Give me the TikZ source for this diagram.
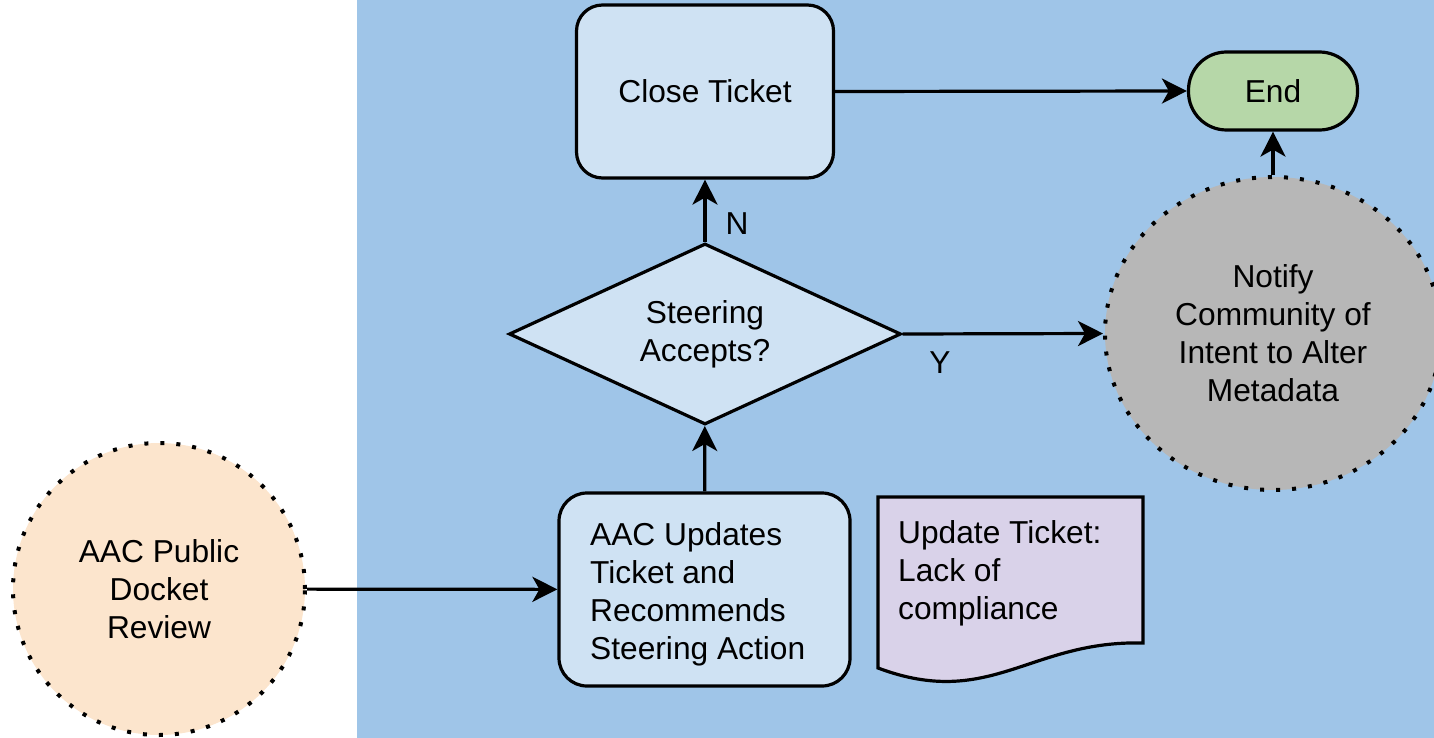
\documentclass[tikz,border=0pt]{standalone}
\usepackage{fontspec}
\setmainfont{Liberation Sans}
\usetikzlibrary{arrows.meta,shapes.geometric}
\definecolor{bgblue}{HTML}{9FC5E8}
\definecolor{boxblue}{HTML}{CFE2F3}
\definecolor{endgreen}{HTML}{B6D7A8}
\definecolor{notegray}{HTML}{B7B7B7}
\definecolor{peach}{HTML}{FCE5CD}
\definecolor{lilac}{HTML}{D9D2E9}
\begin{document}
\begin{tikzpicture}[x=1pt,y=-1pt,
  every node/.style={font=\fontsize{31.7}{38}\selectfont},
  base/.style={draw=black, line width=3.2pt},
  rbox/.style={base, fill=boxblue, rounded corners=26pt, inner sep=0pt, align=center},
  dotcirc/.style={draw=black, line width=4pt, dash pattern=on 4pt off 12pt, ellipse, inner sep=0pt, align=center},
  plaintext/.style={inner sep=0pt, align=left},
  conn/.style={line width=3.2pt, -{Stealth[length=25pt,width=25pt,inset=7pt]}},
  ]
\useasboundingbox (0,0) rectangle (1434,738);
\fill[bgblue] (357,0) rectangle (1434,738);

% nodes
\node[rbox, minimum width=257pt, minimum height=173pt] (close) at (705,91.5) {Close Ticket};
\node[base, fill=endgreen, rounded corners=38pt, minimum width=169pt, minimum height=78pt, inner sep=0pt] (end) at (1273,91) {End};
\node[diamond, base, fill=boxblue, aspect=2.166, minimum width=392pt, minimum height=181pt, inner sep=0pt, align=center] (dec) at (705,334) {Steering\\Accepts?};
\node[dotcirc, fill=notegray, minimum width=336pt, minimum height=313pt] (notify) at (1273,333.5) {Notify\\Community of\\Intent to Alter\\Metadata};
\node[dotcirc, fill=peach, minimum width=292pt, minimum height=292pt] (pub) at (159,589) {AAC Public\\Docket\\Review};
\node[rbox, rounded corners=28pt, minimum width=291pt, minimum height=193pt] (aac) at (704.5,589.5) {};
\node[plaintext, anchor=west] (aacT) at (590,594) {AAC Updates\\Ticket and\\Recommends\\Steering Action};

% document shape
\coordinate (doc) at (878,497);
\filldraw[base, fill=lilac, line join=miter] (doc) -- (1143,497) -- (1143,643)
  .. controls (1030,640) and (990,710) .. (878,668) -- cycle;
\node[plaintext, anchor=west] (docT) at (898,573) {Update Ticket:\\Lack of\\compliance};

% connectors
\draw[conn] (pub) -- (aac);
\draw[conn] (aac) -- (dec);
\draw[conn] (dec.north) -- (close.south);
\node[inner sep=0pt] (nlab) at (737,223.5) {N};
\draw[conn] (dec.east) -- (notify.west);
\node[inner sep=0pt] (ylab) at (940,362.5) {Y};
\draw[conn] (close.east) -- (end.west);
\draw[conn] (notify.north) -- (end.south);
\end{tikzpicture}
\end{document}
